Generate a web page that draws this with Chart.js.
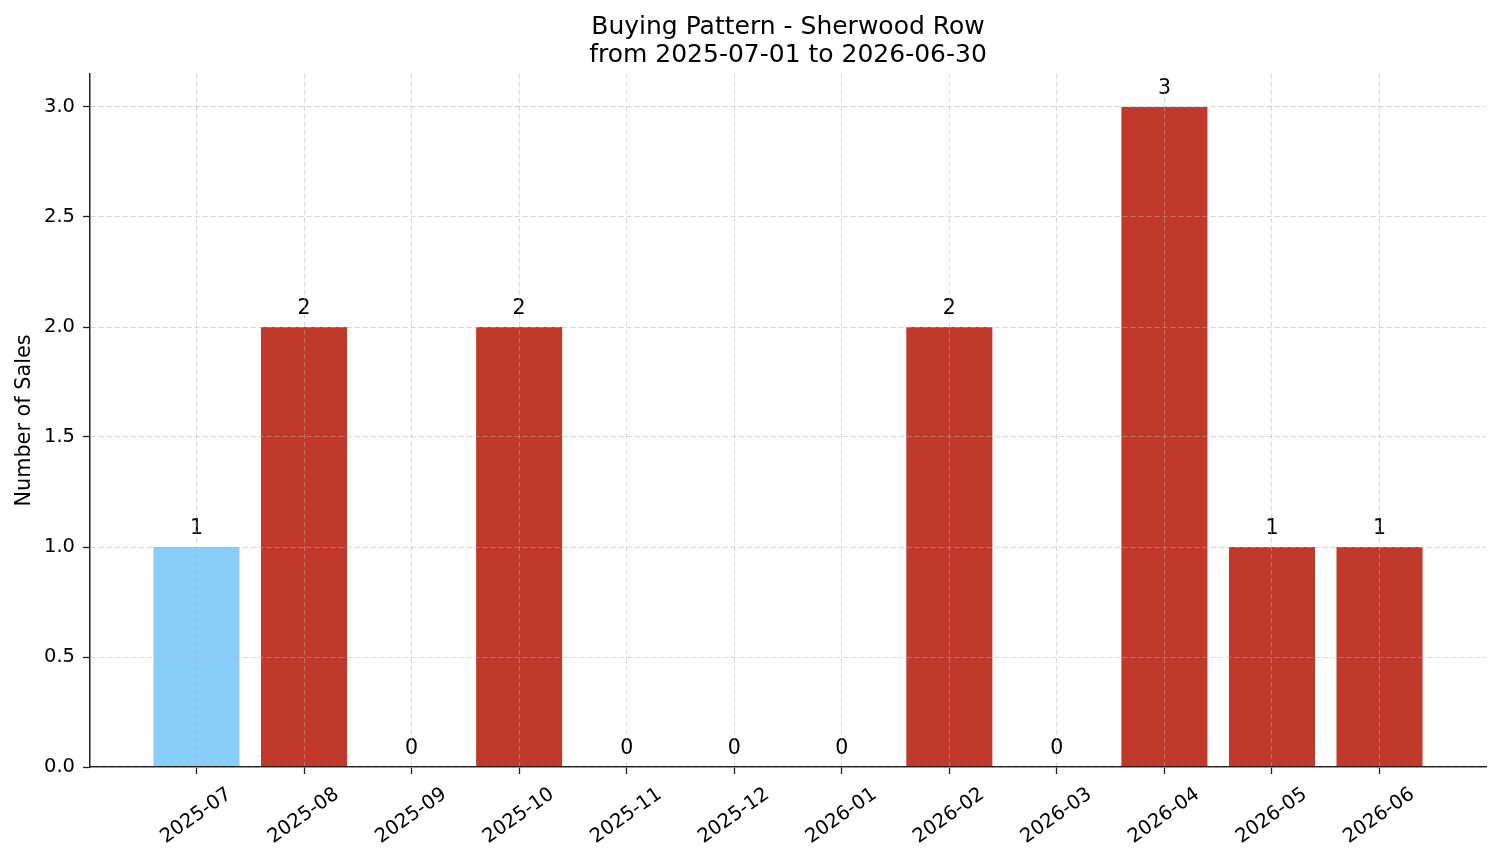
<!DOCTYPE html>
<html>
<head>
<meta charset="utf-8">
<script src="https://cdn.jsdelivr.net/npm/chart.js@4.4.0/dist/chart.umd.min.js"></script>
<style>
  html, body { margin: 0; padding: 0; background: #ffffff; }
  #wrap { width: 1501px; height: 863px; }
</style>
</head>
<body>
<div id="wrap"><canvas id="c" width="1501" height="863"></canvas></div>
<script>
// ---- Data ----
const months = ['2025-07','2025-08','2025-09','2025-10','2025-11','2025-12','2026-01','2026-02','2026-03','2026-04','2026-05','2026-06'];
const sales = [1, 2, 0, 2, 0, 0, 0, 2, 0, 3, 1, 1];
const yTicks = [0, 0.5, 1.0, 1.5, 2.0, 2.5, 3.0];
const highlightMonth = '2025-07';
const titleLines = ['Buying Pattern - Sherwood Row', 'from 2025-07-01 to 2026-06-30'];
const yAxisLabel = 'Number of Sales';

// ---- Styles ----
const RED = '#C0392B';
const BLUE = '#87CEFA';
const FONT = 'DejaVu Sans';
const TICK_SIZE = 19.5;
const GRID = 'rgba(176,176,176,0.5)';

Chart.defaults.font.family = FONT;
Chart.defaults.color = '#000';

const valueLabels = {
  id: 'valueLabels',
  afterDatasetsDraw(chart) {
    const ctx = chart.ctx;
    const meta = chart.getDatasetMeta(0);
    ctx.save();
    ctx.font = '20.5px "' + FONT + '"';
    ctx.fillStyle = '#000';
    ctx.textAlign = 'center';
    ctx.textBaseline = 'alphabetic';
    meta.data.forEach((bar, i) => {
      ctx.fillText(String(sales[i]), bar.x, bar.y - 13);
    });
    ctx.restore();
  }
};

new Chart(document.getElementById('c'), {
  type: 'bar',
  data: {
    datasets: [{
      data: sales.map((v, i) => ({ x: i, y: v })),
      backgroundColor: months.map(m => m === highlightMonth ? BLUE : RED),
      borderWidth: 0,
      barPercentage: 0.8,
      categoryPercentage: 1.0
    }]
  },
  options: {
    responsive: false,
    animation: false,
    devicePixelRatio: 1,
    layout: { padding: { left: 0, right: 15, top: 0, bottom: 0 } },
    plugins: {
      legend: { display: false },
      tooltip: { enabled: false },
      title: {
        display: true,
        text: titleLines,
        fullSize: false,
        color: '#000',
        font: { family: FONT, size: 25, weight: 'normal', lineHeight: 1.12 },
        padding: { top: 13, bottom: 5 }
      }
    },
    scales: {
      x: {
        type: 'linear',
        offset: false,
        min: -0.99,
        max: 11.99,
        afterBuildTicks: s => { s.ticks = months.map((_, i) => ({ value: i })); },
        afterFit: s => { s.height = 96; },
        ticks: {
          callback: v => months[v],
          autoSkip: false,
          minRotation: 35,
          maxRotation: 35,
          font: { size: TICK_SIZE },
          color: '#000',
          padding: 9,
          labelOffset: 33
        },
        grid: {
          offset: false,
          color: GRID,
          lineWidth: 1,
          drawTicks: true,
          tickLength: 7,
          tickColor: '#222',
          tickWidth: 1.3,
          z: 1
        },
        border: { display: true, color: '#222', width: 1.5, dash: [5, 3], z: 1 }
      },
      y: {
        min: 0,
        max: 3.15,
        afterBuildTicks: s => { s.ticks = yTicks.map(v => ({ value: v })); },
        afterFit: s => { s.width = 90; },
        ticks: {
          callback: v => Number(v).toFixed(1),
          font: { size: TICK_SIZE },
          color: '#000',
          padding: 8
        },
        grid: {
          color: GRID,
          lineWidth: 1,
          drawTicks: true,
          tickLength: 7,
          tickColor: '#222',
          tickWidth: 1.3,
          z: 1
        },
        border: { display: true, color: '#222', width: 1.5, dash: [5, 3], z: 1 },
        title: {
          display: true,
          text: yAxisLabel,
          color: '#000',
          font: { size: 20.8, lineHeight: 1.2 },
          padding: { top: 12, bottom: 0 }
        }
      }
    }
  },
  plugins: [valueLabels]
});
</script>
</body>
</html>
